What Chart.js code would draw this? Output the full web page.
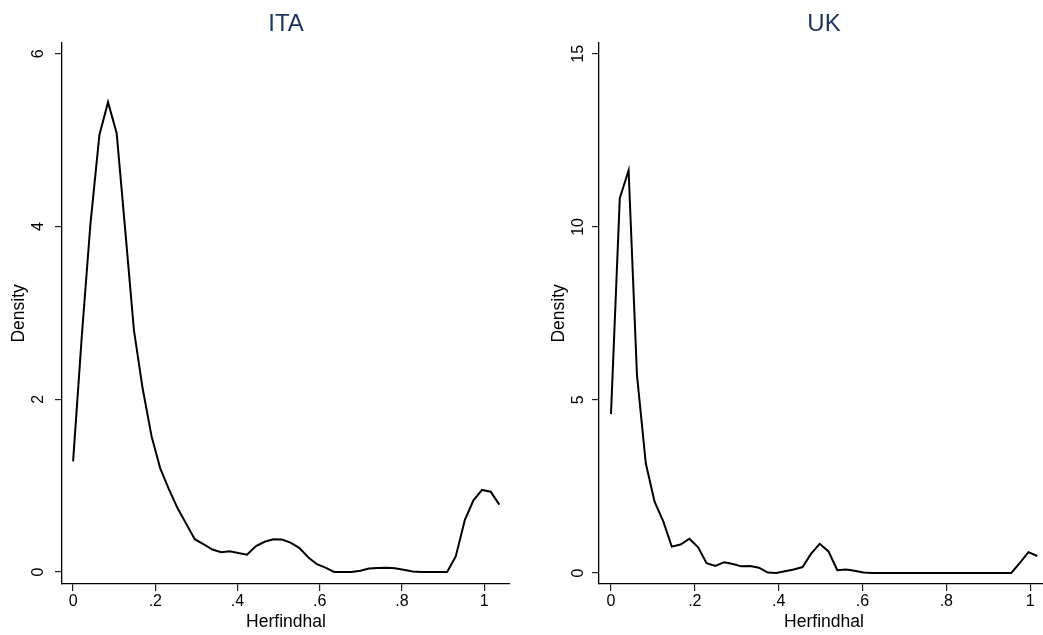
<!DOCTYPE html>
<html>
<head>
<meta charset="utf-8">
<script src="https://cdn.jsdelivr.net/npm/chart.js@4.4.0/dist/chart.umd.min.js"></script>
<style>
  html, body { margin: 0; padding: 0; background: #fff; overflow: hidden; }
  #wrap { position: relative; width: 1043px; height: 635px; overflow: hidden; }
  canvas { position: absolute; top: 0; }
</style>
</head>
<body>
<div id="wrap">
  <canvas id="ita" width="522" height="635" style="left:0"></canvas>
  <canvas id="uk" width="522" height="635" style="left:537px"></canvas>
</div>
<script>
// Herfindhal grid points (kdensity evaluation points) and density values
const itaX = [0, .021, .042, .064, .085, .106, .127, .148, .169, .191,
  .212, .233, .254, .275, .296, .318, .339, .360, .381, .402,
  .423, .445, .466, .487, .508, .529, .550, .572, .593, .614,
  .635, .656, .677, .699, .720, .741, .762, .783, .804, .826,
  .847, .868, .889, .910, .931, .953, .974, .995, 1.016, 1.037];
const itaDensity = [1.28, 2.72, 4.02, 5.06, 5.44, 5.08, 3.95, 2.80, 2.13, 1.57,
  1.20, 0.96, 0.74, 0.56, 0.38, 0.32, 0.26, 0.23, 0.24, 0.22,
  0.20, 0.30, 0.35, 0.38, 0.375, 0.34, 0.28, 0.17, 0.09, 0.05,
  0, 0, 0, 0.015, 0.04, 0.047, 0.05, 0.043, 0.025, 0.006,
  0, 0, 0, 0, 0.18, 0.60, 0.83, 0.95, 0.93, 0.78];

const ukX = [0, .021, .042, .062, .083, .104, .125, .145, .166, .187,
  .208, .228, .249, .270, .291, .311, .332, .353, .374, .394,
  .415, .436, .457, .477, .498, .519, .540, .561, .581, .602,
  .623, .644, .664, .685, .706, .727, .747, .768, .789, .810,
  .830, .851, .872, .893, .913, .934, .955, .976, .996, 1.017];
const ukDensity = [4.59, 10.83, 11.63, 5.72, 3.17, 2.06, 1.48, 0.76, 0.82, 0.99,
  0.74, 0.28, 0.20, 0.31, 0.26, 0.19, 0.20, 0.15, 0.01, 0,
  0.05, 0.10, 0.17, 0.55, 0.84, 0.62, 0.08, 0.10, 0.06, 0.01,
  0, 0, 0, 0, 0, 0, 0, 0, 0, 0,
  0, 0, 0, 0, 0, 0, 0, 0.30, 0.60, 0.49];

const xTicks = [0, 0.2, 0.4, 0.6, 0.8, 1];
const xTickLabels = ['0', '.2', '.4', '.6', '.8', '1'];
const itaYTicks = [0, 2, 4, 6];
const ukYTicks = [0, 5, 10, 15];

const FONT = '"Liberation Sans", Arial, Helvetica, sans-serif';
const NAVY = '#1e335e';

function points(xs, ys) {
  return xs.map((x, i) => ({ x: x, y: ys[i] }));
}

function makeChart(id, title, xs, ys, cfg) {
  return new Chart(document.getElementById(id), {
    type: 'line',
    data: {
      datasets: [{
        data: points(xs, ys),
        borderColor: '#000',
        borderWidth: 2,
        pointRadius: 0,
        tension: 0,
        fill: false
      }]
    },
    options: {
      responsive: false,
      animation: false,
      layout: { padding: { left: 0, right: cfg.padRight, top: 0, bottom: 0 } },
      plugins: {
        legend: { display: false },
        tooltip: { enabled: false },
        title: {
          display: true,
          text: title,
          color: NAVY,
          fullSize: false,
          font: { family: FONT, size: 24, weight: 'normal' },
          padding: { top: 10, bottom: 4 }
        }
      },
      scales: {
        x: {
          type: 'linear',
          min: cfg.xMin,
          max: cfg.xMax,
          afterBuildTicks: s => { s.ticks = xTicks.map(v => ({ value: v })); },
          afterFit: s => { s.height = 51; },
          border: { display: true, color: '#000', width: 1.3 },
          grid: { drawOnChartArea: false, drawTicks: true, tickLength: 7, color: '#222', lineWidth: 1.2 },
          ticks: {
            color: '#000',
            font: { family: FONT, size: 16 },
            padding: 1,
            maxRotation: 0,
            autoSkip: false,
            callback: (v, i) => xTickLabels[i]
          },
          title: {
            display: true,
            text: 'Herfindhal',
            color: '#000',
            font: { family: FONT, size: 17.5 },
            padding: { top: 0, bottom: 2 }
          }
        },
        y: {
          min: cfg.yMin,
          max: cfg.yMax,
          afterBuildTicks: s => { s.ticks = cfg.yTicks.map(v => ({ value: v })); },
          afterFit: s => { s.width = 62; },
          border: { display: true, color: '#000', width: 1.3 },
          grid: { drawOnChartArea: false, drawTicks: true, tickLength: 7, color: '#222', lineWidth: 1.2 },
          ticks: {
            color: '#000',
            font: { family: FONT, size: 16 },
            padding: cfg.tickPad,
            minRotation: 90,
            maxRotation: 90,
            crossAlign: 'center',
            autoSkip: false,
            callback: v => String(v)
          },
          title: {
            display: true,
            text: 'Density',
            color: '#000',
            font: { family: FONT, size: 17.5 },
            padding: { top: cfg.titlePad, bottom: 0 }
          }
        }
      }
    }
  });
}

makeChart('ita', 'ITA', itaX, itaDensity, {
  xMin: -0.027, xMax: 1.063,
  yMin: -0.139, yMax: 6.127, yTicks: itaYTicks,
  tickPad: 12, titlePad: 9, padRight: 12
});

makeChart('uk', 'UK', ukX, ukDensity, {
  xMin: -0.0286, xMax: 1.045,
  yMin: -0.32, yMax: 15.32, yTicks: ukYTicks,
  tickPad: 5, titlePad: 12, padRight: 10
});
</script>
</body>
</html>
